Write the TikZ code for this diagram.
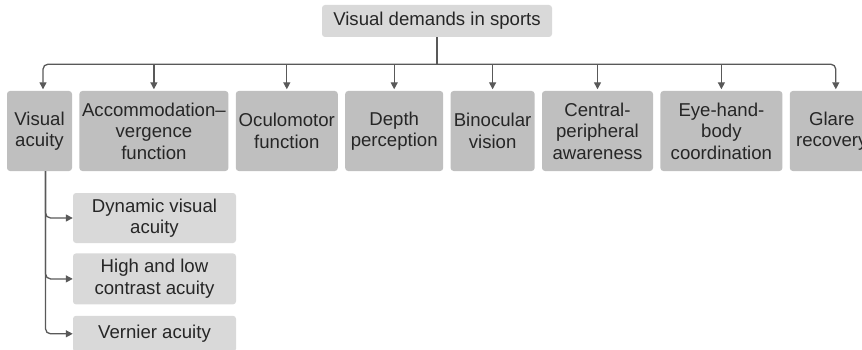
\documentclass[tikz,border=0pt]{standalone}
\usepackage{fontspec}
\setmainfont{Liberation Sans}
\usetikzlibrary{arrows.meta,calc,positioning}
\definecolor{ink}{HTML}{262626}
\definecolor{wire}{HTML}{595959}
\definecolor{mid}{HTML}{BFBFBF}
\definecolor{pale}{HTML}{D9D9D9}
\tikzset{head/.style={rounded corners=3pt,fill=pale,text=ink,inner sep=2pt,align=center,font=\fontsize{18.6}{21.5}\selectfont},group/.style={head,fill=mid,minimum height=80pt},sub/.style={head,minimum width=163pt},wire/.style={draw=wire,line width=1.3pt},flow/.style={wire,-{Triangle[length=7pt,width=7pt]},shorten >=1.5pt}}

\begin{document}
\begin{tikzpicture}[node distance=7pt]
\useasboundingbox (0,0) rectangle (862pt,-350pt);
\node[head,minimum width=230pt,minimum height=32pt] (top) at (437pt,-21pt) {Visual demands in sports};
% second row, left to right
\node[group,minimum width=65pt] (acuity) at (39.5pt,-131pt) {Visual\\acuity};
\node[group,minimum width=149pt,right=of acuity] (accom) {Accommodation–\\vergence\\function};
\node[group,minimum width=102pt,right=of accom] (oculo) {Oculomotor\\function};
\node[group,minimum width=98pt,right=of oculo] (depth) {Depth\\perception};
\node[group,minimum width=84pt,right=of depth] (bino) {Binocular\\vision};
\node[group,minimum width=111pt,right=of bino] (central) {Central-\\peripheral\\awareness};
\node[group,minimum width=122pt,right=of central] (eyehand) {Eye-hand-\\body\\coordination};
\node[group,minimum width=84pt,right=of eyehand] (glare) {Glare\\recovery};
% kinds of acuity
\node[sub,minimum height=50pt] (dynamic) at (154.5pt,-218pt) {Dynamic visual\\acuity};
\node[sub,minimum height=51pt,below=10pt of dynamic] (contrast) {High and low\\contrast acuity};
\node[sub,minimum height=36pt,below=11pt of contrast] (vernier) {Vernier acuity};
\coordinate (bus) at ($(top.south)+(0,-27pt)$);
\draw[wire] (top.south) -- (bus);
\draw[flow,rounded corners=5pt] (bus) -| ([xshift=3.5pt]acuity.north);
\draw[flow,rounded corners=5pt] (bus) -| ([xshift=4pt]glare.north);
\foreach \n in {accom,oculo,depth,bino,central,eyehand} \draw[flow] (bus -| \n.north) -- (\n.north);
\coordinate (spine) at ([xshift=6pt]acuity.south);
\foreach \n in {dynamic,contrast,vernier} \draw[flow,rounded corners=5pt,shorten >=0pt] (spine) |- (\n.west);
\end{tikzpicture}
\end{document}
